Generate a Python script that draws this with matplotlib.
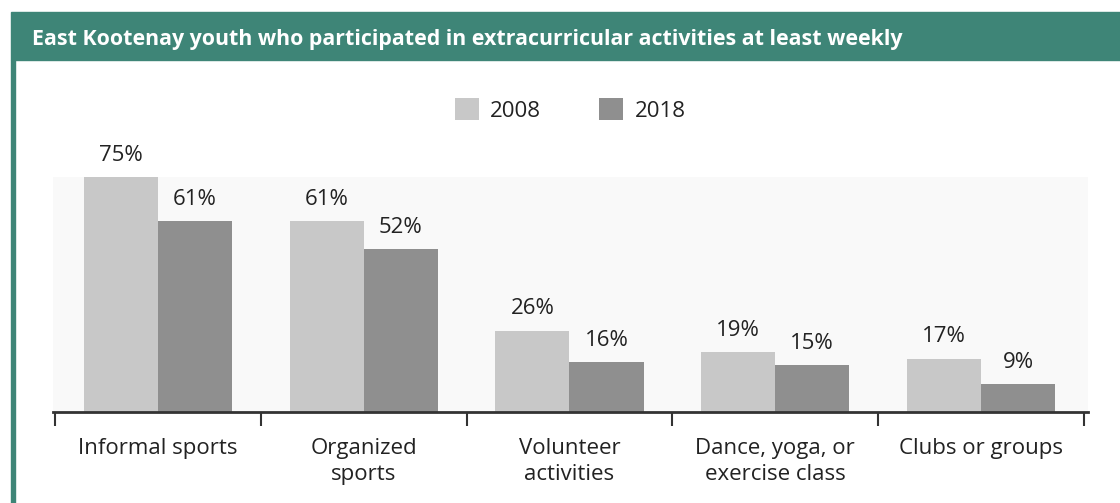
import numpy as np
import matplotlib.pyplot as plt
from matplotlib.patches import Rectangle

categories = ['Informal sports', 'Organized\nsports', 'Volunteer\nactivities',
              'Dance, yoga, or\nexercise class', 'Clubs or groups']
years = ['2008', '2018']
vals_2008 = [75, 61, 26, 19, 17]
vals_2018 = [61, 52, 16, 15, 9]
title = 'East Kootenay youth who participated in extracurricular activities at least weekly'

GREEN = '#3e8577'
C2008 = '#c8c8c8'
C2018 = '#8f8f8f'
TXT = '#222222'

plt.rcParams['font.family'] = ['Open Sans', 'DejaVu Sans']

fig = plt.figure(figsize=(11.2, 5.03), dpi=100)

# header band and left border
fig.patches.append(Rectangle((11 / 1120, 1 - 60 / 503), 1, 48 / 503,
                             transform=fig.transFigure, color=GREEN, zorder=0))
fig.patches.append(Rectangle((11 / 1120, 0), 4 / 1120, 1 - 60 / 503,
                             transform=fig.transFigure, color=GREEN, zorder=0))
fig.text(32 / 1120, 1 - 40 / 503, title, color='white', fontsize=15.4,
         fontweight='bold', va='center', ha='left')

ax = fig.add_axes([53 / 1120, 91 / 503, 1035 / 1120, 235 / 503])
ax.set_facecolor('#f9f9f9')

x = np.arange(len(categories))
w = 0.36
b1 = ax.bar(x - w / 2, vals_2008, w, color=C2008, label=years[0])
b2 = ax.bar(x + w / 2, vals_2018, w, color=C2018, label=years[1])

for bars, vals in ((b1, vals_2008), (b2, vals_2018)):
    for r, v in zip(bars, vals):
        ax.text(r.get_x() + r.get_width() / 2, v + 3.6, f'{v}%', ha='center',
                va='bottom', fontsize=16, color=TXT, clip_on=False)

ax.set_xlim(-0.51, 4.52)
ax.set_ylim(0, 75)
ax.set_yticks([])
for s in ('top', 'right', 'left'):
    ax.spines[s].set_visible(False)
ax.spines['bottom'].set_color('#333333')
ax.spines['bottom'].set_linewidth(2)

ax.set_xticks(x)
ax.set_xticklabels(categories, fontsize=16, color=TXT, linespacing=1.3)
ax.tick_params(axis='x', which='major', length=0, pad=19)
ax.set_xticks(np.arange(-0.5, 5, 1), minor=True)
ax.tick_params(axis='x', which='minor', length=10, width=1.5, color='#333333')
for lbl in ax.get_xticklabels():
    lbl.set_va('top')

fig.legend(handles=[b1, b2], labels=years, loc='center',
           bbox_to_anchor=(570 / 1120, 1 - 110 / 503), ncol=2, frameon=False,
           fontsize=16, handlelength=1.1, handleheight=1.1, columnspacing=2.6,
           handletextpad=0.5, labelcolor=TXT)

fig.savefig('out.png', dpi=100)
